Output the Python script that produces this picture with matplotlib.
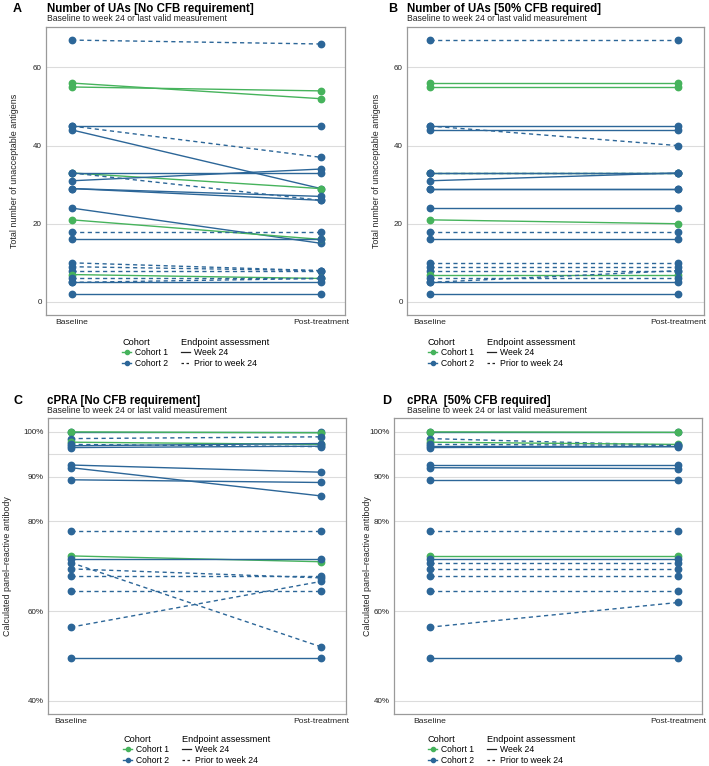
import matplotlib
matplotlib.use("Agg")
import matplotlib.pyplot as plt
from matplotlib.lines import Line2D
from matplotlib.ticker import PercentFormatter

plt.rcParams["font.family"] = ["Liberation Sans", "DejaVu Sans"]

GREEN = "#46b35c"
BLUE = "#2c6698"
W, H = 709, 766

# Number of UAs, one entry per patient
ua_cohort = [2, 1, 1, 2, 2, 2, 1, 2, 2, 2, 2, 2, 2, 1, 2, 2, 2, 2, 2, 1, 2, 2, 2, 2]
ua_prior = [1, 0, 0, 0, 1, 0, 0, 1, 0, 0, 0, 0, 0, 0, 1, 0, 1, 1, 1, 0, 1, 1, 0, 0]
ua_base = [67, 56, 55, 45, 45, 44, 33, 33, 33, 31, 29, 29, 24, 21, 18, 16, 10, 9, 8, 7, 6, 5, 5, 2]
ua_post_nocfb = [66, 52, 54, 45, 37, 29, 29, 26, 33, 34, 27, 26, 15, 16, 18, 16, 8, 8, 8, 6, 6, 6, 5, 2]
ua_post_50 = [67, 56, 55, 45, 40, 44, 33, 33, 33, 33, 29, 29, 24, 20, 18, 16, 10, 9, 8, 7, 6, 8, 5, 2]

# cPRA (%), one entry per patient
cpra_cohort = [2, 1, 2, 1, 2, 2, 2, 2, 2, 2, 2, 1, 2, 2, 2, 2, 2, 2, 2]
cpra_prior = [0, 0, 1, 0, 1, 0, 0, 0, 0, 0, 1, 0, 0, 1, 1, 1, 1, 1, 0]
cpra_base = [99.9, 100, 98.5, 97.7, 97.2, 96.9, 96.5, 92.6, 92.0, 89.3, 77.8,
             72.3, 71.6, 70.8, 69.4, 67.8, 64.5, 56.4, 49.6]
cpra_post_nocfb = [99.9, 99.8, 98.9, 97.2, 96.7, 97.4, 96.8, 91.0, 85.7, 88.7, 77.8,
                   71.0, 71.6, 52.0, 67.4, 67.8, 64.5, 66.6, 49.6]
cpra_post_50 = [99.9, 99.9, 97.0, 97.2, 97.0, 96.9, 96.7, 92.6, 91.8, 89.3, 77.8,
                72.3, 71.6, 70.8, 69.4, 67.8, 64.5, 61.9, 49.6]

x_labels = ["Baseline", "Post-treatment"]

fig = plt.figure(figsize=(W / 100, H / 100), dpi=100)


def px_axes(left, top, right, bottom):
    return fig.add_axes([left / W, 1 - bottom / H, (right - left) / W, (bottom - top) / H])


def fx(x):
    return x / W


def fy(y):
    return 1 - y / H


def panel(frame, xs, base, post, cohort, prior, ylim, yticks, ylabel,
          letter, title, letter_x, title_x, title_y, ylabel_x, leg_xy, pct=False):
    left, top, right, bottom = frame
    ax = px_axes(left, top, right, bottom)
    bx, px_ = xs
    scale = px_ - bx
    ax.set_xlim(1 - (bx - left) / scale, 2 + (right - px_) / scale)
    ax.set_ylim(*ylim)
    for b, p, c, d in zip(base, post, cohort, prior):
        col = GREEN if c == 1 else BLUE
        ax.plot([1, 2], [b, p], color=col, lw=1.0,
                linestyle=(0, (3, 2.5)) if d else "-",
                marker="o", ms=4.6, mec=col, mfc=col, zorder=3)
    ax.set_yticks(yticks)
    if pct:
        ax.yaxis.set_major_formatter(PercentFormatter(decimals=0))
        ax.axhline(95, color="#dcdcdc", lw=0.8, zorder=1)
    ax.grid(axis="y", color="#dcdcdc", lw=0.8)
    ax.set_axisbelow(True)
    ax.set_xticks([1, 2])
    ax.set_xticklabels(x_labels)
    ax.tick_params(axis="x", length=0, labelsize=6.1, colors="#222222", pad=3)
    ax.tick_params(axis="y", length=0, labelsize=5.8, colors="#222222", pad=3)
    for s in ax.spines.values():
        s.set_color("#9a9a9a")
        s.set_linewidth(0.9)
    fig.text(fx(ylabel_x), (1 - bottom / H + 1 - top / H) / 2, ylabel,
             rotation=90, ha="center", va="center", fontsize=6.4, color="#222222")
    fig.text(fx(letter_x), fy(title_y), letter, fontsize=9, fontweight="bold",
             va="baseline", ha="left")
    fig.text(fx(title_x), fy(title_y), title, fontsize=8.3, fontweight="bold",
             va="baseline", ha="left")
    fig.text(fx(title_x), fy(title_y + 9), "Baseline to week 24 or last valid measurement",
             fontsize=6.2, va="baseline", ha="left", color="#222222")

    # legends under the panel
    lx, ly = leg_xy
    common = dict(loc="upper left", frameon=False, fontsize=6.2, title_fontsize=6.6,
                  handlelength=1.1, handletextpad=0.4, labelspacing=0.15,
                  borderpad=0, borderaxespad=0, alignment="left")
    h1 = [Line2D([], [], color=GREEN, marker="o", ms=3, lw=1),
          Line2D([], [], color=BLUE, marker="o", ms=3, lw=1)]
    fig.legend(h1, ["Cohort 1", "Cohort 2"], title="Cohort",
               bbox_to_anchor=(fx(lx), fy(ly)), **common)
    h2 = [Line2D([], [], color="#222222", lw=0.9),
          Line2D([], [], color="#222222", lw=0.9, linestyle=(0, (2, 2)))]
    fig.legend(h2, ["Week 24", "Prior to week 24"], title="Endpoint assessment",
               bbox_to_anchor=(fx(lx + 59), fy(ly)), **common)
    return ax


ua_ylim = (-3.35, 70.35)
cpra_ylim = (37, 103.1)

panel((46, 27, 345, 315), (72, 321), ua_base, ua_post_nocfb, ua_cohort, ua_prior,
      ua_ylim, [0, 20, 40, 60], "Total number of unacceptable antigens",
      "A", "Number of UAs [No CFB requirement]", 13, 47, 12, 15, (122, 338))
panel((407, 27, 704, 315), (430, 678), ua_base, ua_post_50, ua_cohort, ua_prior,
      ua_ylim, [0, 20, 40, 60], "Total number of unacceptable antigens",
      "B", "Number of UAs [50% CFB required]", 388, 407, 12, 377, (428, 338))
panel((48, 418, 346, 714), (71, 321), cpra_base, cpra_post_nocfb, cpra_cohort, cpra_prior,
      cpra_ylim, [40, 60, 80, 90, 100], "Calculated panel\u2013reactive antibody",
      "C", "cPRA [No CFB requirement]", 13, 47, 404, 8, (123, 735), pct=True)
panel((394, 418, 702, 714), (430, 678), cpra_base, cpra_post_50, cpra_cohort, cpra_prior,
      cpra_ylim, [40, 60, 80, 90, 100], "Calculated panel\u2013reactive antibody",
      "D", "cPRA  [50% CFB required]", 382, 407, 404, 367, (428, 735), pct=True)

fig.savefig("out.png", dpi=100, facecolor="white")
